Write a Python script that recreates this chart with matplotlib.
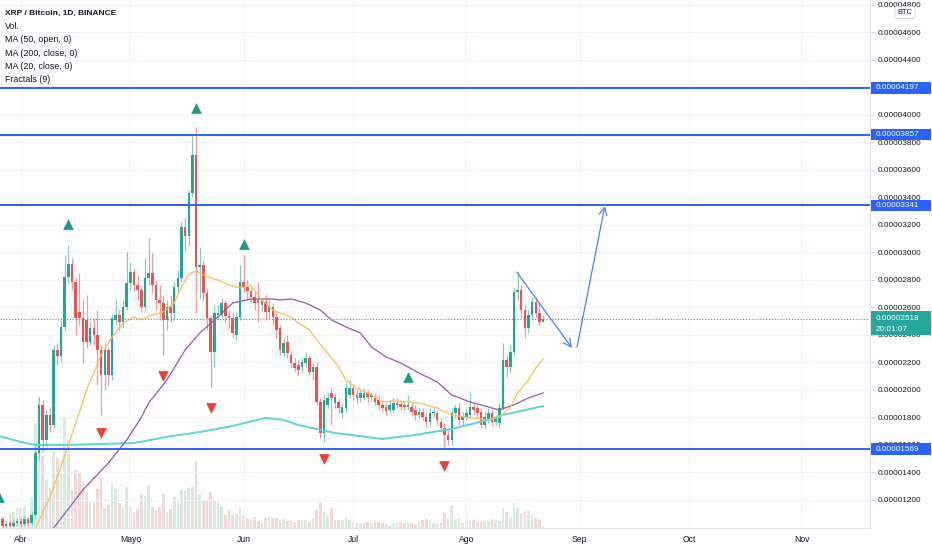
import matplotlib
matplotlib.use('Agg')
import matplotlib.pyplot as plt
import matplotlib.transforms as mtransforms
from matplotlib.patches import Rectangle
import numpy as np

plt.rcParams['font.family'] = ['Liberation Sans', 'DejaVu Sans']

SAT = 1e-8  # values below are in satoshis

# daily candles, day 0 = 1 Apr 2021
days = np.arange(-6, 144)
opens = [1040, 1062, 1011, 1033, 1011, 1033, 1047, 1026, 1062, 1033,
         1091, 1542, 1891, 1636, 1818, 1745, 2291, 2247, 2458, 2821,
         2916, 2785, 2567, 2523, 2509, 2349, 2450, 2399, 2291, 2109,
         2291, 2109, 2509, 2545, 2494, 2603, 2778, 2858, 2763, 2727,
         2603, 2814, 2850, 2763, 2654, 2632, 2509, 2603, 2559, 2749,
         2814, 3185, 3119, 3432, 3708, 2894, 2908, 2705, 2523, 2276,
         2545, 2545, 2632, 2538, 2523, 2399, 2530, 2785, 2749, 2719,
         2676, 2654, 2618, 2639, 2567, 2603, 2530, 2450, 2269, 2349,
         2254, 2196, 2182, 2167, 2196, 2232, 2131, 2167, 1912, 1687,
         1891, 1978, 1905, 1912, 1832, 1869, 1963, 2014, 1963, 1942,
         1942, 1978, 1949, 1942, 1927, 1891, 1876, 1854, 1854, 1905,
         1898, 1891, 1876, 1876, 1854, 1818, 1840, 1803, 1767, 1832,
         1832, 1767, 1723, 1673, 1636, 1832, 1869, 1782, 1803, 1818,
         1876, 1869, 1840, 1745, 1782, 1832, 1767, 1760, 1869, 2218,
         2167, 2276, 2712, 2727, 2581, 2450, 2545, 2639, 2559, 2494]
closes = [1055, 1011, 1026, 1011, 1033, 1047, 1026, 1062, 1033, 1091,
          1542, 1891, 1636, 1818, 1745, 2291, 2247, 2458, 2821, 2916,
          2785, 2523, 2523, 2349, 2349, 2450, 2399, 2291, 2109, 2291,
          2109, 2523, 2545, 2494, 2603, 2778, 2858, 2763, 2727, 2603,
          2814, 2850, 2763, 2654, 2632, 2509, 2603, 2559, 2749, 2814,
          3185, 3119, 3432, 3708, 2894, 2908, 2705, 2523, 2276, 2559,
          2559, 2632, 2538, 2523, 2414, 2530, 2785, 2749, 2719, 2676,
          2632, 2632, 2654, 2567, 2610, 2530, 2436, 2291, 2341, 2269,
          2196, 2160, 2145, 2203, 2232, 2131, 2167, 1912, 1687, 1927,
          1942, 1942, 1949, 1869, 1876, 2014, 2014, 1963, 1942, 1978,
          1978, 1949, 1963, 1912, 1891, 1869, 1847, 1891, 1905, 1891,
          1876, 1876, 1891, 1840, 1818, 1840, 1803, 1767, 1832, 1840,
          1782, 1723, 1673, 1636, 1832, 1869, 1782, 1803, 1832, 1876,
          1854, 1832, 1745, 1803, 1832, 1767, 1796, 1869, 2218, 2167,
          2276, 2712, 2727, 2581, 2450, 2545, 2639, 2559, 2494, 2518]
highs = [1084, 1076, 1047, 1055, 1062, 1069, 1069, 1084, 1076, 1120,
         1614, 1949, 1927, 1854, 1876, 2327, 2341, 2509, 2981, 3054,
         2959, 2814, 2850, 2654, 2690, 2494, 2523, 2581, 2327, 2341,
         2312, 2545, 2654, 2581, 2654, 3003, 2930, 2887, 2836, 2763,
         2959, 3105, 2996, 2799, 2763, 2690, 2654, 2690, 2785, 2872,
         3221, 3250, 3454, 3854, 3912, 3039, 2945, 2741, 2545, 2618,
         2618, 2669, 2654, 2581, 2567, 2567, 2908, 2981, 2799, 2741,
         2712, 2785, 2669, 2690, 2654, 2632, 2567, 2472, 2378, 2399,
         2291, 2232, 2218, 2232, 2276, 2254, 2203, 2203, 1942, 1963,
         1978, 2014, 1978, 1942, 1905, 2058, 2072, 2036, 2000, 2000,
         2014, 2000, 1985, 1978, 1963, 1927, 1905, 1927, 1942, 1942,
         1927, 1912, 1963, 1912, 1891, 1869, 1869, 1840, 1869, 1876,
         1854, 1796, 1760, 1709, 1869, 1891, 1905, 1840, 1869, 1978,
         1905, 1891, 1869, 1840, 1869, 1854, 1818, 1905, 2341, 2254,
         2327, 2741, 2858, 2763, 2618, 2581, 2676, 2676, 2632, 2545]
lows = [1011, 1004, 1004, 1004, 1004, 1011, 1004, 1011, 1011, 1018,
        1069, 1491, 1549, 1593, 1694, 1723, 2182, 2203, 2436, 2778,
        2727, 2399, 2472, 2196, 2305, 2327, 2327, 2036, 1818, 2000,
        2036, 2072, 2472, 2436, 2450, 2581, 2727, 2712, 2654, 2567,
        2581, 2763, 2705, 2581, 2509, 2254, 2436, 2494, 2509, 2712,
        2785, 3003, 3054, 3403, 2559, 2669, 2654, 2436, 2021, 2167,
        2509, 2523, 2494, 2450, 2378, 2363, 2509, 2712, 2654, 2632,
        2581, 2494, 2567, 2509, 2523, 2472, 2378, 2254, 2247, 2232,
        2160, 2131, 2109, 2131, 2160, 2109, 2072, 1891, 1651, 1622,
        1869, 1745, 1869, 1832, 1796, 1840, 1942, 1927, 1905, 1912,
        1927, 1912, 1927, 1891, 1854, 1840, 1818, 1832, 1840, 1869,
        1854, 1854, 1854, 1818, 1782, 1796, 1782, 1731, 1745, 1803,
        1745, 1694, 1585, 1600, 1600, 1796, 1745, 1745, 1782, 1796,
        1818, 1796, 1723, 1723, 1760, 1738, 1745, 1731, 1854, 2094,
        2131, 2254, 2654, 2523, 2378, 2414, 2509, 2523, 2472, 2494]
volume = [9, 11, 8, 14, 16, 20, 21, 22, 10, 30,
          105, 131, 72, 48, 40, 76, 70, 55, 110, 88,
          38, 58, 56, 46, 36, 28, 28, 39, 50, 20,
          23, 45, 39, 25, 20, 41, 21, 16, 19, 34,
          32, 43, 21, 18, 21, 34, 16, 19, 31, 26,
          38, 37, 40, 41, 67, 34, 28, 28, 36, 28,
          26, 21, 13, 18, 13, 14, 20, 13, 10, 8,
          11, 7, 5, 10, 11, 10, 10, 8, 9, 7,
          7, 6, 8, 7, 8, 6, 10, 18, 26, 16,
          12, 20, 8, 8, 8, 11, 8, 6, 5, 5,
          5, 6, 5, 6, 6, 5, 4, 2, 5, 5,
          6, 5, 6, 5, 4, 6, 8, 9, 7, 5,
          5, 5, 15, 9, 22, 9, 10, 5, 7, 8,
          8, 6, 6, 7, 7, 9, 8, 7, 20, 16,
          11, 25, 20, 15, 17, 18, 14, 10, 8, 2]

# moving averages
ma20_days = [4, 8, 11, 13, 16, 18, 22, 25, 28, 31, 33, 36, 39, 42, 44, 46,
             48, 51, 54, 57, 60, 63, 66, 69, 71, 74, 76, 79, 81, 84, 87, 89,
             92, 96, 99, 102, 106, 109, 114, 118, 123, 128, 131, 134, 136,
             139, 141, 143]
ma20_vals = [996, 1222, 1440, 1600, 1832, 2000, 2254, 2385, 2487, 2530,
             2509, 2545, 2567, 2632, 2749, 2843, 2865, 2821, 2799, 2763,
             2741, 2760, 2654, 2581, 2559, 2530, 2487, 2436, 2363, 2269,
             2167, 2072, 2014, 1963, 1912, 1920, 1912, 1905, 1869, 1818,
             1796, 1782, 1803, 1869, 1978, 2072, 2160, 2225]
ma50_days = [9, 17, 24, 29, 33, 35, 40, 45, 49, 54, 58, 63, 69, 71, 74, 78,
             82, 85, 89, 93, 96, 100, 104, 109, 114, 118, 123, 128, 131,
             135, 139, 143]
ma50_vals = [996, 1273, 1469, 1636, 1800, 1905, 2072, 2291, 2414, 2530,
             2632, 2661, 2661, 2654, 2661, 2632, 2581, 2509, 2458, 2414,
             2312, 2240, 2196, 2123, 2058, 1963, 1912, 1876, 1854, 1891,
             1942, 1978]
ma200_days = [-6, 0, 4, 13, 22, 31, 40, 49, 58, 67, 72, 76, 81, 86, 99, 108,
              118, 128, 132, 137, 143]
ma200_vals = [1665, 1622, 1600, 1600, 1607, 1614, 1658, 1694, 1738, 1796,
              1782, 1745, 1716, 1687, 1643, 1673, 1716, 1782, 1818, 1847,
              1883]

# fractal markers
frac_up_days = [-6, 13, 48, 61, 106]
frac_up_pos = [1222, 3206, 4050, 3061, 2094]
frac_dn_days = [22, 39, 52, 83, 116]
frac_dn_pos = [1687, 2101, 1869, 1498, 1447]

levels = [4197, 3857, 3341, 1569]
last_price = 2518
countdown = '20:01:07'

month_days = [0, 30, 61, 91, 122, 153, 183, 214]
month_names = ['Abr', 'Mayo', 'Jun', 'Jul', 'Ago', 'Sep', 'Oct', 'Nov']

legend_lines = ['XRP / Bitcoin, 1D, BINANCE', 'Vol.', 'MA (50, open, 0)',
                'MA (200, close, 0)', 'MA (20, close, 0)', 'Fractals (9)']

UP, DN = '#26a69a', '#ef5350'
UP_W, DN_W = '#80cbc4', '#f59a98'
UP_V, DN_V = '#d6ecdc', '#f6d7d8'
BLUE = '#2962ff'
TXT = '#131722'

opens, closes = np.array(opens), np.array(closes)
highs, lows = np.array(highs), np.array(lows)
volume = np.array(volume, dtype=float)
up = closes >= opens

W, H = 932, 550
fig = plt.figure(figsize=(W / 100, H / 100), dpi=100)
rect = [0, 22 / H, 870 / W, 528 / H]
axv = fig.add_axes(rect)
ax = fig.add_axes(rect, sharex=axv)
ax.patch.set_alpha(0)

# volume underneath
axv.bar(days, volume, width=0.72, color=np.where(up, UP_V, DN_V), lw=0)
axv.set_ylim(0, volume.max() * 4.03)
axv.axis('off')

ax.set_xlim(-5.69, 232.5)
ax.set_ylim(996 * SAT, 4835 * SAT)

ax.grid(color='#f0f3fa', lw=0.8)
ax.set_axisbelow(True)

# candles
ax.vlines(days, lows * SAT, highs * SAT, colors=np.where(up, UP_W, DN_W),
          lw=0.9, zorder=2)
body = np.maximum(np.abs(closes - opens), 6)
ax.bar(days, body * SAT, bottom=np.minimum(opens, closes) * SAT, width=0.7,
       color=np.where(up, UP, DN), lw=0, zorder=3)

ax.plot(ma200_days, np.array(ma200_vals) * SAT, color='#62d2da', lw=1.4, zorder=4)
ax.plot(ma50_days, np.array(ma50_vals) * SAT, color='#9657b3', lw=0.9, zorder=4)
ax.plot(ma20_days, np.array(ma20_vals) * SAT, color='#ffbc57', lw=0.9, zorder=4)

ax.scatter(frac_up_days, np.array(frac_up_pos) * SAT, marker='^', s=60,
           color='#1e9a84', lw=0, zorder=5)
ax.scatter(frac_dn_days, np.array(frac_dn_pos) * SAT, marker='v', s=60,
           color='#f23d35', lw=0, zorder=5)

for lv in levels:
    ax.axhline(lv * SAT, color=BLUE, lw=1.4, zorder=4)
ax.axhline(last_price * SAT, color=UP, lw=0.8, ls=(0, (1, 1.6)), zorder=4)

# drawn trend line and projection
arrow = dict(arrowstyle='->,head_length=0.55,head_width=0.28', color='#4a84f5',
             lw=0.9, shrinkA=0, shrinkB=0)
ax.annotate('', xy=(150.9, 2305 * SAT), xytext=(135.8, 2857 * SAT), arrowprops=arrow)
ax.annotate('', xy=(159.9, 3337 * SAT), xytext=(152.3, 2312 * SAT), arrowprops=arrow)

# axes styling
ax.yaxis.tick_right()
ax.set_yticks(np.arange(1200, 4801, 200) * SAT)
ax.yaxis.set_major_formatter(plt.FuncFormatter(lambda v, p: f'{v:.8f}'))
ax.tick_params(axis='y', length=3, color='#d1d4dc', labelsize=5.9,
               labelcolor=TXT, pad=2.5)
ax.set_xticks(month_days)
ax.set_xticklabels(month_names)
ax.tick_params(axis='x', length=0, labelsize=6.2, labelcolor=TXT, pad=5)
for s in ['top', 'left']:
    ax.spines[s].set_visible(False)
for s in ['right', 'bottom']:
    ax.spines[s].set_color('#e0e3eb')
    ax.spines[s].set_linewidth(0.8)

# price labels on the right scale
tr = mtransforms.blended_transform_factory(ax.transAxes, ax.transData)
bw = 60 / 870
for lv in levels:
    ax.add_patch(Rectangle((1.0015, (lv - 43) * SAT), bw, 86 * SAT,
                           transform=tr, fc=BLUE, ec='none', clip_on=False, zorder=6))
    ax.text(1 + 6 / 870, lv * SAT, f'{lv * SAT:.8f}', transform=tr, color='white',
            fontsize=5.9, va='center', ha='left', clip_on=False, zorder=7)
ax.add_patch(Rectangle((1.0015, 2400 * SAT), bw, 174 * SAT, transform=tr,
                       fc=UP, ec='none', clip_on=False, zorder=6))
ax.text(1 + 6 / 870, last_price * SAT, f'{last_price * SAT:.8f}', transform=tr,
        color='white', fontsize=5.9, va='center', ha='left', clip_on=False, zorder=7)
ax.text(1 + 6 / 870, 2440 * SAT, countdown, transform=tr, color='white',
        fontsize=5.9, va='center', ha='left', clip_on=False, zorder=7)

fig.text(905 / W, 1 - 12.5 / H, 'BTC', ha='center', va='center', fontsize=5.3,
         color=TXT, bbox=dict(boxstyle='round,pad=0.35', fc='white',
                              ec='#d1d4dc', lw=0.6))

# legend block, top left
ys = [13.3, 26.5, 39.8, 53, 66.3, 79.6]
for i, (t, y) in enumerate(zip(legend_lines, ys)):
    fig.text(5 / W, 1 - y / H, t, ha='left', va='center',
             fontsize=6.0 if i == 0 else 6.4, color=TXT,
             fontweight='bold' if i == 0 else 'normal')

fig.savefig('out.png', dpi=100, facecolor='white')
